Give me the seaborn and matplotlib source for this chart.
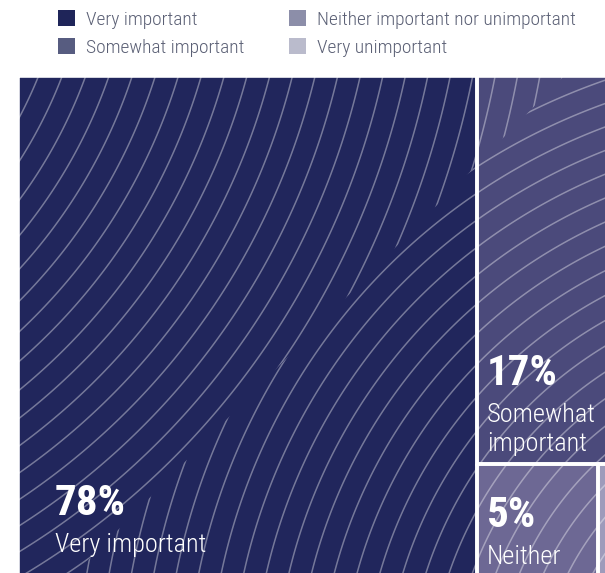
import matplotlib
matplotlib.use("Agg")
import matplotlib.pyplot as plt
import numpy as np
import seaborn as sns
from matplotlib import font_manager
from matplotlib.collections import LineCollection
from matplotlib.patches import Patch, Polygon, Rectangle

# data
categories = ["Very important", "Somewhat important",
              "Neither important nor unimportant", "Very unimportant"]
shares = [78, 17, 5, 0.45]
pct_labels = ["78%", "17%", "5%", ""]
cell_labels = ["Very important", "Somewhat\nimportant", "Neither", ""]
legend_colors = ["#1f2559", "#575c80", "#8c8ea9", "#babbcc"]
cell_colors = ["#21265c", "#4b4a7b", "#6d6894", "#9e9bbb"]

sns.set_theme(style="white")
available = {f.name for f in font_manager.fontManager.ttflist}
narrow = next((f for f in ["Liberation Sans Narrow", "Roboto Condensed",
                           "Open Sans Condensed", "Liberation Sans"] if f in available),
              "DejaVu Sans")
plt.rcParams["font.family"] = [narrow, "DejaVu Sans"]


def slice_layout(values, x, y, w, h):
    """left column for the first value, the rest stacked, then split side by side"""
    total = sum(values)
    w0 = w * values[0] / total
    rest = values[1:]
    h1 = h * rest[0] / sum(rest)
    w2 = (w - w0) * rest[1] / sum(rest[1:])
    return [(x, y, w0, h),
            (x + w0, y, w - w0, h1),
            (x + w0, y + h1, w2, h - h1),
            (x + w0 + w2, y + h1, w - w0 - w2, h - h1)]


fig = plt.figure(figsize=(6.05, 5.73), dpi=100)
ax = fig.add_axes([0, 0, 1, 1])
ax.set_xlim(0, 605)
ax.set_ylim(573, 0)
ax.axis("off")

box_x, box_y, box_w, box_h = 18, 76, 591, 512
rects = slice_layout(shares, box_x, box_y, box_w, box_h)

for (x, y, w, h), c in zip(rects, cell_colors):
    ax.add_patch(Rectangle((x, y), w, h, facecolor=c, edgecolor="none", zorder=1))

# decorative ripple lines, two families split by a diagonal
p1, p2 = (95, 553), (563, 77)
slope = (p2[1] - p1[1]) / (p2[0] - p1[0])
x_bot = p1[0] + (box_y + box_h - p1[1]) / slope
x_top = p1[0] + (box_y - p1[1]) / slope
x_end = box_x + box_w
y_end = box_y + box_h
region_a = Polygon([(box_x, box_y), (x_top, box_y), (x_bot, y_end), (box_x, y_end)],
                   closed=True, facecolor="none", edgecolor="none")
region_b = Polygon([(x_top, box_y), (x_end, box_y), (x_end, y_end), (x_bot, y_end)],
                   closed=True, facecolor="none", edgecolor="none")
ax.add_patch(region_a)
ax.add_patch(region_b)

for (cx, cy, r0, r1, clip) in [(-375, -91, 380, 1250, region_a),
                               (820, 700, 150, 900, region_b)]:
    phi = np.linspace(-np.pi, np.pi, 900)
    segs = [np.column_stack([cx + r * np.cos(phi), cy + r * np.sin(phi)])
            for r in np.arange(r0, r1, 22)]
    lc = LineCollection(segs, colors="white", alpha=0.38, linewidths=1.1, zorder=2)
    ax.add_collection(lc)
    lc.set_clip_path(clip)

for (x, y, w, h) in rects:
    ax.add_patch(Rectangle((x, y), w, h, facecolor="none", edgecolor="white",
                           lw=2.6, zorder=3))

# label anchors: x offset in the cell, baseline of the percentage
anchors = [(37, 515), (10, 385), (10, 527)]
for (x, y, w, h), pct, lab, (dx, base) in zip(rects, pct_labels, cell_labels, anchors):
    ax.text(x + dx, base, pct, color="white", fontsize=31, fontweight="bold",
            va="baseline", ha="left", zorder=4)
    for i, line in enumerate(lab.split("\n")):
        ax.text(x + dx, base + 37 + i * 29, line, color="white", fontsize=19,
                fontweight="light", va="baseline", ha="left", zorder=4)

handles = [Patch(facecolor=c, edgecolor="none") for c in sns.color_palette(legend_colors)]
fig.legend(handles, categories, ncol=2, loc="upper left",
           bbox_to_anchor=(58 / 605, 1 - 10 / 573), frameon=False,
           prop={"size": 14, "weight": "light"}, labelcolor="#5b6075",
           handlelength=0.88, handleheight=0.88,
           handletextpad=0.55, columnspacing=2.3, labelspacing=0.5,
           borderpad=0, borderaxespad=0)

fig.savefig("out.png", dpi=100)
